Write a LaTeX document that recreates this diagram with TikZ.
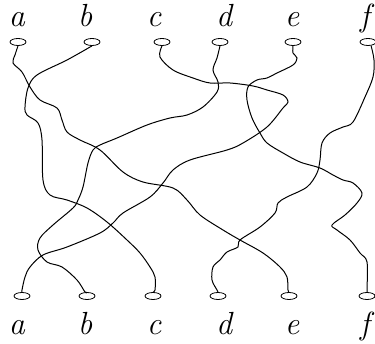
\documentclass[tikz,border=0pt]{standalone}
\usetikzlibrary{shapes.geometric}
\begin{document}
\begin{tikzpicture}[x=1pt,y=-1pt,
  port/.style={draw,ellipse,minimum width=16pt,minimum height=7pt,inner sep=0pt,line width=0.8pt},
  lab/.style={anchor=base,inner sep=0pt,font=\fontsize{32}{37}\selectfont\itshape},
  strand/.style={line width=1pt}]
\useasboundingbox (0,0) rectangle (375,344);
% top ports
\node[port] (ta) at (18,42) {};
\node[port] (tb) at (92,42) {};
\node[port] (tc) at (162,42) {};
\node[port] (td) at (220,42) {};
\node[port] (te) at (293,42) {};
\node[port] (tf) at (368,42) {};
% bottom ports
\node[port] (ba) at (22,296) {};
\node[port] (bb) at (87,296) {};
\node[port] (bc) at (153,296) {};
\node[port] (bd) at (218,296) {};
\node[port] (be) at (289,296) {};
\node[port] (bf) at (367,296) {};
% labels
\node[lab] (la) at (17,27) {a};
\node[lab] (lb) at (85,27) {b};
\node[lab] (lc) at (154,27) {c};
\node[lab] (ld) at (224,27) {d};
\node[lab] (le) at (292,27) {e};
\node[lab] (lf) at (365,27) {f};
\node[lab] (Ba) at (17,335) {a};
\node[lab] (Bb) at (85,335) {b};
\node[lab] (Bc) at (154,335) {c};
\node[lab] (Bd) at (224,335) {d};
\node[lab] (Be) at (292,335) {e};
\node[lab] (Bf) at (365,335) {f};
% a -> e
\draw[strand] plot[smooth,tension=0.55] coordinates {(ta.south) (15,55) (13,63) (22,72) (30,87) (40,100) (57,108) (62,120) (67,132) (80,140) (100,150) (123,172) (143,182) (173,188) (187,200) (200,215) (223,230) (240,240) (263,253) (280,267) (287,277) (288,290) (be.north)};
% b -> c
\draw[strand] plot[smooth,tension=0.55] coordinates {(tb.south) (67,60) (37,75) (28,88) (25,107) (27,115) (38,123) (42,140) (43,180) (50,195) (67,200) (87,208) (107,222) (127,240) (140,253) (150,267) (155,277) (155,290) (bc.north)};
% c -> a
\draw[strand] plot[smooth,tension=0.55] coordinates {(tc.south) (160,57) (173,70) (193,78) (210,83) (230,83) (253,86) (267,90) (283,95) (288,102) (283,108) (267,127) (243,143) (227,150) (190,160) (173,170) (163,183) (150,197) (123,213) (113,223) (100,233) (67,247) (43,255) (30,267) (25,277) (22,290) (ba.north)};
% d -> b
\draw[strand] plot[smooth,tension=0.55] coordinates {(td.south) (217,58) (213,70) (218,82) (217,92) (203,107) (187,115) (170,118) (147,125) (117,138) (100,145) (93,150) (88,163) (83,187) (78,200) (73,208) (53,225) (40,238) (38,250) (47,262) (62,267) (77,280) (85,292) (bb.north)};
% e -> f
\draw[strand] plot[smooth,tension=0.55] coordinates {(te.south) (293,53) (297,58) (293,65) (277,73) (267,78) (257,80) (248,87) (247,100) (252,118) (260,133) (267,143) (283,153) (300,162) (320,168) (333,175) (343,180) (353,183) (362,193) (357,203) (345,215) (332,225) (337,230) (350,240) (360,253) (367,262) (367,290) (bf.north)};
% f -> d
\draw[strand] plot[smooth,tension=0.55] coordinates {(tf.-50) (374,60) (373,77) (365,97) (353,122) (343,127) (330,133) (322,143) (320,160) (317,173) (307,187) (287,197) (278,203) (275,213) (260,227) (240,240) (238,247) (227,252) (220,260) (213,267) (212,280) (217,290) (bd.north)};
\end{tikzpicture}
\end{document}
